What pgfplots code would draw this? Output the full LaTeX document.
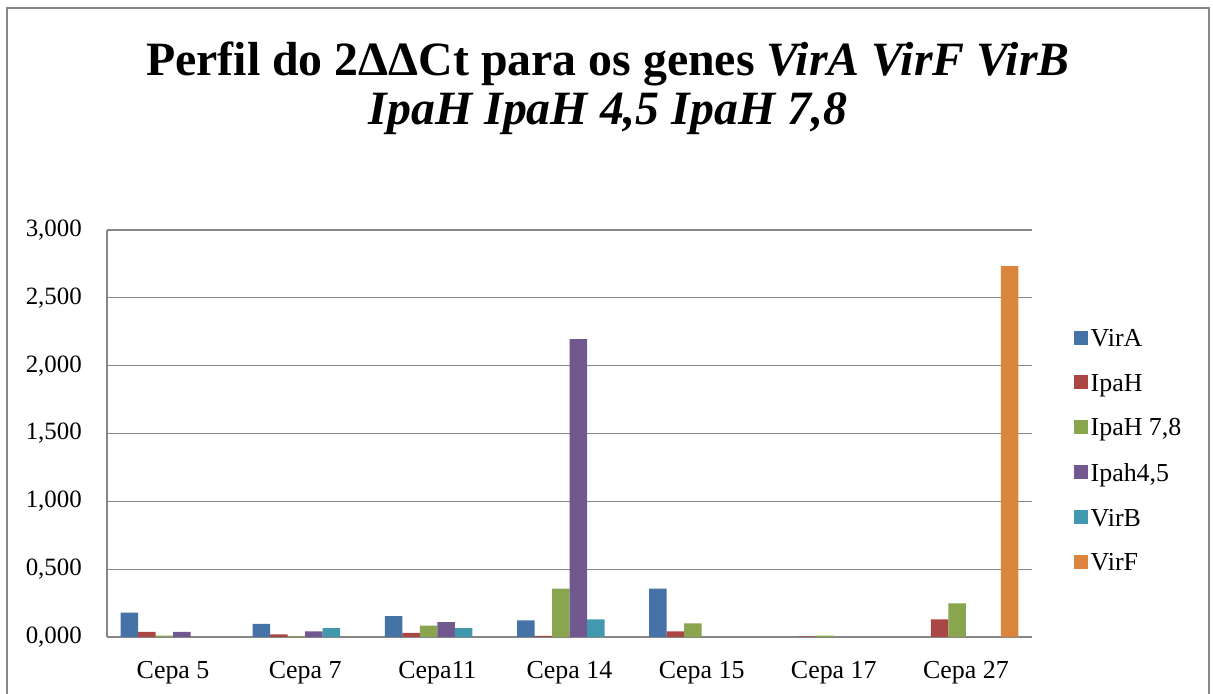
\documentclass[border=0pt]{standalone}
\usepackage{fontspec}
\setmainfont{Liberation Serif}
\usepackage{pgfplots}
\usepackage{pgfplotstable}
\pgfplotsset{compat=1.18}

\definecolor{cVirA}{HTML}{4572A7}
\definecolor{cIpaH}{HTML}{AA4643}
\definecolor{cIpa78}{HTML}{89A54E}
\definecolor{cIpa45}{HTML}{71588F}
\definecolor{cVirB}{HTML}{4198AF}
\definecolor{cVirF}{HTML}{DB843D}
\definecolor{axgray}{HTML}{868686}

% 2^-ddCt values per strain (x = strain index)
\pgfplotstableread{
x VirA  IpaH  Ipa78 Ipa45 VirB  VirF
0 0.180 0.037 0.010 0.037 0.000 0.000
1 0.096 0.020 0.005 0.042 0.066 0.000
2 0.153 0.030 0.083 0.110 0.066 0.000
3 0.123 0.008 0.357 2.196 0.130 0.000
4 0.357 0.042 0.100 0.000 0.000 0.000
5 0.000 0.005 0.010 0.000 0.000 0.000
6 0.000 0.130 0.247 0.000 0.000 2.733
}\ddct

\begin{document}
\begin{tikzpicture}
\useasboundingbox (0,0) rectangle (1213bp,694bp);
\draw[axgray, line width=1.2bp] (7bp,-10bp) rectangle (1209bp,686bp);

\node[anchor=base, font=\fontsize{48}{52}\selectfont\bfseries, inner sep=0pt]
  at (608bp,618bp) {Perfil do 2ΔΔCt para os genes \textit{VirA VirF VirB}};
\node[anchor=base, font=\fontsize{48}{52}\selectfont\bfseries\itshape, inner sep=0pt]
  at (608bp,569bp) {IpaH IpaH 4,5 IpaH 7,8};

\begin{axis}[
    at={(107bp,57bp)}, anchor=south west,
    width=925bp, height=407bp, scale only axis,
    ybar=0pt, bar width=17.5bp,
    xmin=-0.5, xmax=6.5,
    ymin=0, ymax=3,
    xtick={0,1,2,3,4,5,6},
    xticklabels={Cepa 5, Cepa 7, Cepa11, Cepa 14, Cepa 15, Cepa 17, Cepa 27},
    ytick={0,0.5,1,1.5,2,2.5,3},
    yticklabel style={/pgf/number format/fixed, /pgf/number format/fixed zerofill,
        /pgf/number format/precision=3, /pgf/number format/use comma,
        /pgf/number format/1000 sep={}},
    /pgf/number format/assume math mode=true,
    yticklabel style={font=\fontsize{25}{29}\selectfont, inner sep=0pt, xshift=-25bp},
    xticklabel style={font=\fontsize{26}{30}\selectfont, inner sep=0pt, yshift=-24bp},
    major tick length=0pt,
    tick style={draw=none},
    axis x line*=bottom, axis y line*=left,
    axis line style={-, color=axgray, line width=1.3bp},
    ymajorgrids, grid style={color=axgray, line width=1.2bp},
    legend style={
        at={(1.0454,0.762)}, anchor=north west,
        draw=none, fill=none, inner sep=0pt,
        font=\fontsize{26}{30}\selectfont,
        row sep=21bp, cells={anchor=west},
        nodes={inner sep=2.5bp}
    },
    legend image code/.code={\fill[#1] (0bp,-6bp) rectangle (14bp,8bp);},
]
\addplot[fill=cVirA, draw=none] table[x=x, y=VirA] {\ddct};
\addplot[fill=cIpaH, draw=none] table[x=x, y=IpaH] {\ddct};
\addplot[fill=cIpa78, draw=none] table[x=x, y=Ipa78] {\ddct};
\addplot[fill=cIpa45, draw=none] table[x=x, y=Ipa45] {\ddct};
\addplot[fill=cVirB, draw=none] table[x=x, y=VirB] {\ddct};
\addplot[fill=cVirF, draw=none] table[x=x, y=VirF] {\ddct};
\legend{VirA, IpaH, {IpaH 7,8}, {Ipah4,5}, VirB, VirF}
\end{axis}
\end{tikzpicture}
\end{document}
